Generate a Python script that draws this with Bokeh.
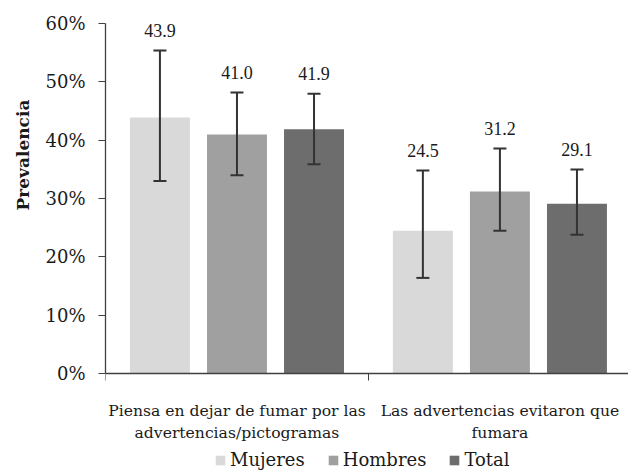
import numpy as np
from bokeh.plotting import figure
from bokeh.models import (Range1d, FixedTicker, PrintfTickFormatter, ColumnDataSource,
                          Whisker, TeeHead, Legend, LegendItem, Title, LinearAxis)
from bokeh.embed import file_html
from bokeh.resources import INLINE

# ---- data ----
categories_line1 = ["Piensa en dejar de fumar por las", "Las advertencias evitaron que"]
categories_line2 = ["advertencias/pictogramas", "fumara"]
series = ["Mujeres", "Hombres", "Total"]
mujeres = [43.9, 24.5]
hombres = [41.0, 31.2]
total = [41.9, 29.1]
mujeres_low = [33.0, 16.4]
mujeres_high = [55.4, 34.8]
hombres_low = [34.0, 24.5]
hombres_high = [48.2, 38.6]
total_low = [35.9, 23.8]
total_high = [48.0, 35.0]
y_ticks = [0, 10, 20, 30, 40, 50, 60]

values = [mujeres, hombres, total]
lows = [mujeres_low, hombres_low, total_low]
highs = [mujeres_high, hombres_high, total_high]
colors = ["#d9d9d9", "#a0a0a1", "#6d6d6e"]
offsets = [-0.293, 0.0, 0.293]
FONT = "DejaVu Serif"

p = figure(frame_width=523, frame_height=462, x_range=Range1d(0, 1.989), y_range=Range1d(-16.63, 62.6),
           output_backend="svg", toolbar_location=None, x_axis_location=None,
           min_border_left=105, min_border_right=0, min_border_top=8, min_border_bottom=0)
p.outline_line_color = None
p.xgrid.visible = False
p.ygrid.visible = False
p.background_fill_color = "white"

group_centers = np.arange(len(categories_line1)) + 0.5
renderers = []
for i, name in enumerate(series):
    xs = group_centers + offsets[i]
    src = ColumnDataSource(dict(x=xs, top=values[i], low=lows[i], high=highs[i],
                                ly=np.array(highs[i]) + 2.3,
                                lab=[f"{v:.1f}" for v in values[i]]))
    r = p.vbar(x="x", top="top", bottom=0, width=0.228, source=src, fill_color=colors[i], line_color=None)
    renderers.append(r)
    w = Whisker(base="x", lower="low", upper="high", source=src, line_color="#333333", line_width=2,
                upper_head=TeeHead(size=13, line_color="#333333", line_width=2),
                lower_head=TeeHead(size=13, line_color="#333333", line_width=2),
                level="overlay")
    p.add_layout(w)
    p.text(x="x", y="ly", text="lab", source=src, text_align="center", text_baseline="bottom",
           text_font_size="18px", text_color="#1a1a1a", text_font=FONT)

# y axis
ya = p.yaxis[0]
ya.ticker = FixedTicker(ticks=y_ticks)
ya.formatter = PrintfTickFormatter(format="%d%%")
ya.bounds = (0, 60)
ya.major_tick_in = 0
ya.major_tick_out = 7
ya.minor_tick_out = 0
ya.minor_tick_in = 0
ya.major_label_standoff = 13
ya.major_label_text_font = FONT
ya.major_label_text_font_size = "18px"
ya.major_label_text_color = "#1a1a1a"
ya.axis_line_color = "#404040"
ya.major_tick_line_color = "#404040"
ya.axis_line_width = 1.3

# x axis at y = 0 (line 1 of category labels, boundary ticks)
xa = LinearAxis(fixed_location=0,
                ticker=FixedTicker(ticks=list(group_centers), minor_ticks=[0.0, 1.0, 2.0]),
                major_label_overrides={float(c): lab for c, lab in zip(group_centers, categories_line1)},
                major_tick_in=0, major_tick_out=0, minor_tick_in=0, minor_tick_out=7,
                major_label_standoff=21, major_label_text_font=FONT,
                major_label_text_font_size="15.6px", major_label_text_color="#1a1a1a",
                axis_line_color="#404040", minor_tick_line_color="#404040", axis_line_width=1.3)
p.add_layout(xa, "below")

# second line of category labels
xb = LinearAxis(fixed_location=0,
                ticker=FixedTicker(ticks=list(group_centers), minor_ticks=[]),
                major_label_overrides={float(c): lab for c, lab in zip(group_centers, categories_line2)},
                axis_line_color=None, major_tick_line_color=None, minor_tick_line_color=None,
                major_tick_in=0, major_tick_out=0, minor_tick_in=0, minor_tick_out=0,
                major_label_standoff=50, major_label_text_font=FONT,
                major_label_text_font_size="15.6px", major_label_text_color="#1a1a1a")
p.add_layout(xb, "below")

# y title
p.add_layout(Title(text="Prevalencia", align="left", offset=260, text_font=FONT,
                   text_font_size="17px", text_font_style="bold", text_color="#1a1a1a",
                   standoff=20), "left")

legend = Legend(items=[LegendItem(label=n, renderers=[r]) for n, r in zip(series, renderers)],
                orientation="horizontal", location=(109, 0), border_line_color=None,
                background_fill_alpha=0, glyph_width=12, glyph_height=12, label_standoff=4,
                spacing=22, padding=0, margin=0, label_text_font=FONT, label_text_font_size="18px",
                label_text_color="#1a1a1a", label_height=20)
p.add_layout(legend)

open("out.html", "w").write(file_html(p, INLINE))
